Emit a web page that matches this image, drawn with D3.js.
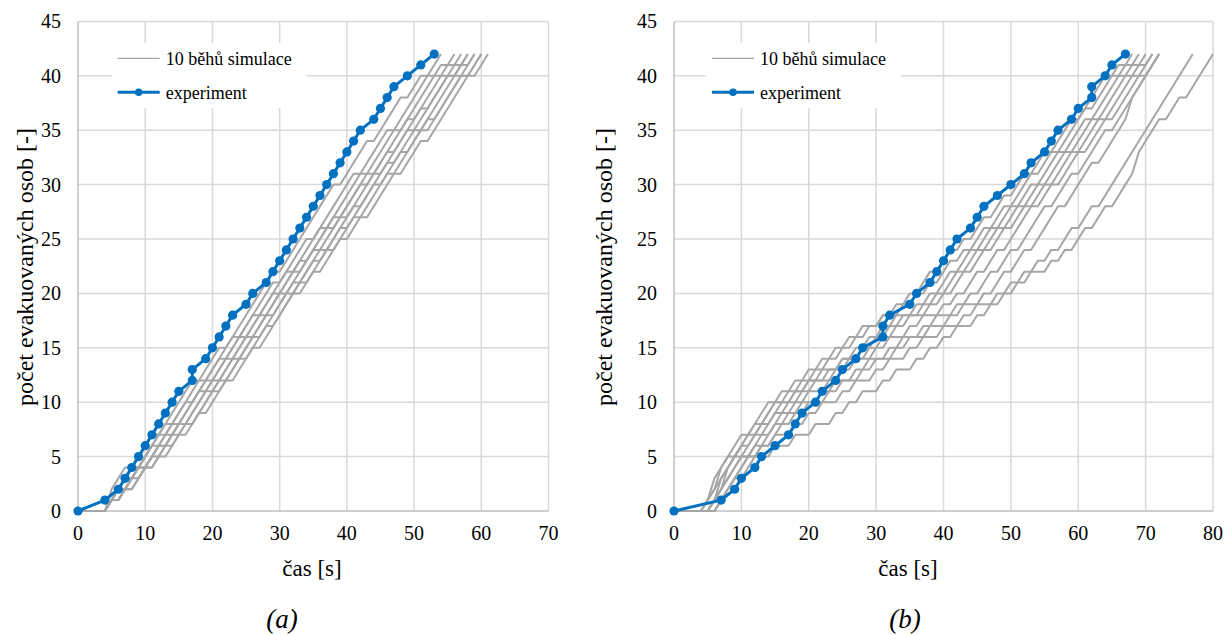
<!DOCTYPE html>
<html>
<head>
<meta charset="utf-8">
<script src="https://cdn.jsdelivr.net/npm/d3@7"></script>
<style>
  body { margin: 0; background: #fff; }
</style>
</head>
<body>
<script>
// tick values
var countTicks = [0, 5, 10, 15, 20, 25, 30, 35, 40, 45];
var timeTicksA = [0, 10, 20, 30, 40, 50, 60, 70];
var timeTicksB = [0, 10, 20, 30, 40, 50, 60, 70, 80];

// experiment (a): time [s] and number of evacuated persons
var expTimeA = [0, 4, 6, 7, 8, 9, 10, 11, 12, 13, 14, 15, 17, 17, 19, 20, 21, 22, 23, 25, 26,
  28, 29, 30, 31, 32, 33, 34, 35, 36, 37, 38, 39, 40, 41, 42, 44, 45, 46, 47, 49, 51, 53];
var expCountA = [0, 1, 2, 3, 4, 5, 6, 7, 8, 9, 10, 11, 12, 13, 14, 15, 16, 17, 18, 19, 20,
  21, 22, 23, 24, 25, 26, 27, 28, 29, 30, 31, 32, 33, 34, 35, 36, 37, 38, 39, 40, 41, 42];

// experiment (b)
var expTimeB = [0, 7, 9, 10, 12, 13, 15, 17, 18, 19, 21, 22, 24, 25, 27, 28, 31, 31, 32, 35, 36,
  38, 39, 40, 41, 42, 44, 45, 46, 48, 50, 52, 53, 55, 56, 57, 59, 60, 62, 62, 64, 65, 67];
var expCountB = [0, 1, 2, 3, 4, 5, 6, 7, 8, 9, 10, 11, 12, 13, 14, 15, 16, 17, 18, 19, 20,
  21, 22, 23, 24, 25, 26, 27, 28, 29, 30, 31, 32, 33, 34, 35, 36, 37, 38, 39, 40, 41, 42];

// 10 simulation runs (a): exit time [s] of each of the 42 persons
var simExitA = [
  [5,5,6,7,9,10,11,13,14,15, 16,17,19,20,21,23,24,25,26,27, 28,29,31,32,33,34,35,36,37,38, 40,41,42,43,45,46,47,48,50,51, 53,54],
  [5,6,7,8,10,11,12,14,15,16, 17,18,20,21,22,23,25,26,27,28, 29,31,32,33,34,36,37,38,39,40, 41,43,44,45,46,48,49,50,51,52, 54,56],
  [5,6,7,8,10,11,12,13,15,16, 18,19,20,21,23,24,25,26,28,29, 30,31,33,34,35,36,38,39,40,41, 42,44,45,46,47,49,50,51,52,53, 55,57],
  [5,6,7,9,10,11,13,14,16,17, 18,19,21,22,23,24,26,27,28,29, 31,32,33,35,36,37,38,40,41,42, 43,45,46,47,48,49,51,52,53,54, 56,58],
  [5,7,8,9,11,12,13,15,16,17, 18,20,21,22,24,25,26,27,29,30, 31,32,34,35,36,37,39,40,41,42, 44,45,46,48,49,50,51,53,54,55, 57,58],
  [5,6,8,9,11,12,14,15,17,18, 19,20,22,23,24,25,27,28,29,30, 32,33,34,35,37,38,39,41,42,43, 44,46,47,48,49,51,52,53,54,55, 57,59],
  [5,6,8,9,11,12,14,15,17,18, 19,21,22,23,25,26,27,28,30,31, 32,34,35,36,38,39,40,41,43,44, 45,46,48,49,50,52,53,54,55,56, 58,59],
  [5,7,9,10,12,13,15,16,18,19, 20,21,23,24,25,26,28,29,30,31, 33,34,35,37,38,39,41,42,43,44, 46,47,48,50,51,52,54,55,56,57, 59,60],
  [5,7,8,10,11,13,14,16,18,19, 20,22,23,24,26,27,28,30,31,32, 33,35,36,37,39,40,41,43,44,45, 46,48,49,50,51,53,54,55,56,57, 59,60],
  [5,7,9,10,12,14,15,17,18,20, 21,22,24,25,26,28,29,30,31,32, 34,35,37,38,39,41,42,44,45,46, 47,49,50,51,53,54,55,56,57,58, 60,61]
];

// 10 simulation runs (b)
var simExitB = [
  [5,6,7,7,8, 9,10,12,13,14, 16,18,20,22,24, 26,28,31,33,35, 37,38,40,41,43, 45,46,48,49,51, 52,54,55,57,58, 59,61,62,63,64, 66,68],
  [5,6,6,7,8, 10,11,12,14,15, 17,19,21,23,25, 27,29,31,34,36, 38,40,41,43,45, 46,48,49,51,52, 53,55,56,58,59, 60,61,63,64,65, 67,69],
  [5,6,7,8,9, 10,12,13,15,16, 18,20,22,25,27, 29,31,33,36,38, 40,41,43,44,46, 47,49,50,52,53, 55,56,57,59,60, 61,63,64,65,66, 68,70],
  [6,7,7,8,9, 10,11,13,14,15, 18,20,23,25,28, 30,32,34,37,39, 41,42,44,45,47, 48,50,51,53,54, 56,57,58,60,61, 62,64,65,66,67, 69,71],
  [6,7,8,8,9, 11,12,14,15,17, 19,21,24,26,29, 31,33,35,38,40, 42,43,45,46,48, 49,51,52,54,55, 57,58,59,61,62, 63,65,66,67,68, 70,71],
  [6,7,8,9,10, 12,13,15,16,18, 20,23,25,27,30, 32,35,37,40,42, 44,45,47,48,50, 51,52,53,55,56, 58,59,60,62,63, 64,66,67,68,69, 71,72],
  [6,7,8,9,10, 12,14,15,17,19, 22,24,27,29,32, 34,37,39,42,44, 46,47,49,50,52, 53,54,55,57,58, 59,61,62,63,64, 66,67,68,69,70, 71,72],
  [7,8,9,10,11, 13,15,16,18,20, 23,25,28,30,33, 35,38,41,43,46, 48,49,51,52,54, 55,56,57,59,60, 61,62,64,65,66, 67,68,68,69,70, 71,72],
  [7,8,9,10,11, 13,15,18,20,22, 25,27,30,32,35, 37,40,43,45,48, 50,52,54,56,58, 59,61,62,64,65, 66,67,68,69,70, 71,72,73,74,75, 76,77],
  [7,8,9,11,12, 15,18,21,24,26, 28,31,33,36,38, 40,42,45,47,49, 51,53,56,58,60, 61,63,64,66,67, 68,69,69,70,71, 72,74,75,77,78, 79,80]
];

var W = 1227, H = 635;
var GRID = "#d9d9d9", AXIS = "#bfbfbf", SIM = "#a6a6a6", BLUE = "#0070c0";
var FONT = "'Liberation Serif', 'Times New Roman', serif";

var svg = d3.select("body").append("svg")
  .attr("width", W)
  .attr("height", H)
  .style("font-family", FONT);

// cumulative count at each whole second, from the exit times of one run
function runSeries(times) {
  var end = d3.max(times);
  return d3.range(0, end + 1).map(function (t) {
    return [t, d3.bisectRight(times, t)];
  });
}

function label(sel, size) {
  return sel.style("font-family", FONT)
    .style("font-size", size + "px").attr("fill", "#000");
}

function panel(cfg) {
  var x = d3.scaleLinear().domain([0, cfg.xMax]).range([cfg.left, cfg.right]);
  var y = d3.scaleLinear().domain([0, 45]).range([511, 21.4]);
  var g = svg.append("g");

  // gridlines
  g.selectAll(".vgrid").data(cfg.xTicks.slice(1)).enter().append("line")
    .attr("x1", function (d) { return x(d); })
    .attr("x2", function (d) { return x(d); })
    .attr("y1", y(0)).attr("y2", y(45))
    .attr("stroke", GRID).attr("stroke-width", 1.5);
  g.selectAll(".hgrid").data(countTicks.slice(1)).enter().append("line")
    .attr("x1", x(0)).attr("x2", x(cfg.xMax))
    .attr("y1", function (d) { return y(d); })
    .attr("y2", function (d) { return y(d); })
    .attr("stroke", GRID).attr("stroke-width", 1.5);

  // axis lines
  g.append("line").attr("x1", x(0)).attr("x2", x(0)).attr("y1", y(0)).attr("y2", y(45))
    .attr("stroke", AXIS).attr("stroke-width", 1.5);
  g.append("line").attr("x1", x(0)).attr("x2", x(cfg.xMax)).attr("y1", y(0)).attr("y2", y(0))
    .attr("stroke", AXIS).attr("stroke-width", 1.5);

  // tick labels
  label(g.selectAll(".xlab").data(cfg.xTicks).enter().append("text"), 20)
    .attr("x", function (d) { return x(d); })
    .attr("y", 539.5)
    .attr("text-anchor", "middle")
    .text(function (d) { return d; });
  label(g.selectAll(".ylab").data(countTicks).enter().append("text"), 20)
    .attr("x", x(0) - 17)
    .attr("y", function (d) { return y(d) + 7; })
    .attr("text-anchor", "end")
    .text(function (d) { return d; });

  // legend box (covers the grid)
  var lx = cfg.legX;
  g.append("rect").attr("x", lx).attr("y", 43).attr("width", 195).attr("height", 65)
    .attr("fill", "#fff");
  g.append("line").attr("x1", lx + 6).attr("x2", lx + 48).attr("y1", 58.3).attr("y2", 58.3)
    .attr("stroke", SIM).attr("stroke-width", 1.3);
  label(g.append("text"), 18).attr("x", lx + 54).attr("y", 64.5)
    .text("10 běhů simulace");
  g.append("line").attr("x1", lx + 6).attr("x2", lx + 48).attr("y1", 92.3).attr("y2", 92.3)
    .attr("stroke", BLUE).attr("stroke-width", 3);
  g.append("circle").attr("cx", lx + 27).attr("cy", 92.3).attr("r", 3.8).attr("fill", BLUE);
  label(g.append("text"), 18).attr("x", lx + 54).attr("y", 98.5)
    .text("experiment");

  var line = d3.line()
    .x(function (d) { return x(d[0]); })
    .y(function (d) { return y(d[1]); });

  // simulation runs
  g.selectAll(".sim").data(cfg.sims).enter().append("path")
    .attr("d", function (d) { return line(runSeries(d)); })
    .attr("fill", "none")
    .attr("stroke", SIM)
    .attr("stroke-width", 2)
    .attr("stroke-linejoin", "round");

  // experiment
  var exp = cfg.expT.map(function (t, i) { return [t, cfg.expN[i]]; });
  g.append("path")
    .attr("d", line(exp))
    .attr("fill", "none")
    .attr("stroke", BLUE)
    .attr("stroke-width", 3)
    .attr("stroke-linejoin", "round");
  g.selectAll(".dot").data(exp).enter().append("circle")
    .attr("cx", function (d) { return x(d[0]); })
    .attr("cy", function (d) { return y(d[1]); })
    .attr("r", 4.6)
    .attr("fill", BLUE);

  // axis titles
  label(g.append("text"), 24)
    .attr("transform", "translate(" + cfg.yTitleX + ",267) rotate(-90)")
    .attr("text-anchor", "middle")
    .attr("dominant-baseline", "central")
    .text("počet evakuovaných osob [-]");
  label(g.append("text"), 23)
    .attr("x", cfg.xTitleX).attr("y", 576)
    .attr("text-anchor", "middle")
    .text("čas [s]");
  label(g.append("text"), 27)
    .attr("x", cfg.capX).attr("y", 628)
    .attr("text-anchor", "middle")
    .style("font-style", "italic")
    .text(cfg.caption);
}

panel({ xMax: 70, left: 78, right: 548.5, xTicks: timeTicksA, sims: simExitA,
  expT: expTimeA, expN: expCountA, legX: 111.7, yTitleX: 24.7, xTitleX: 312, capX: 282, caption: "(a)" });
panel({ xMax: 80, left: 674, right: 1213, xTicks: timeTicksB, sims: simExitB,
  expT: expTimeB, expN: expCountB, legX: 706, yTitleX: 604, xTitleX: 908, capX: 905, caption: "(b)" });
</script>
</body>
</html>
